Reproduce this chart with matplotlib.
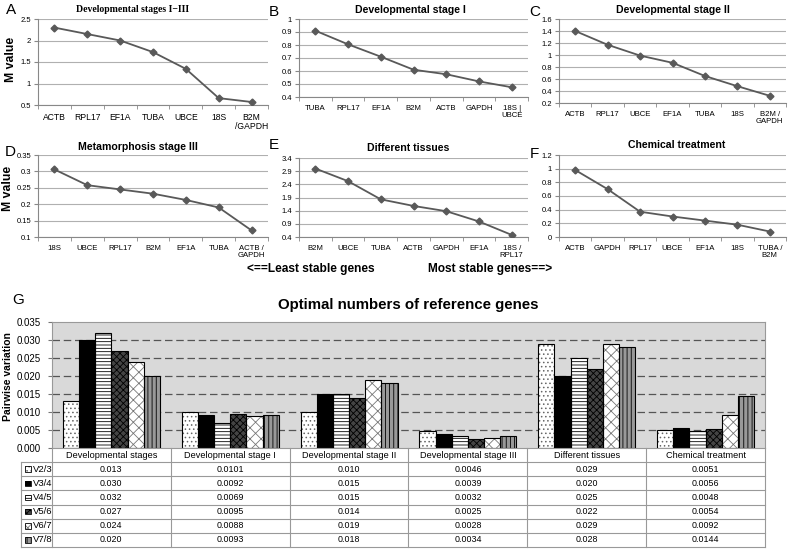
import numpy as np
import matplotlib
matplotlib.use('Agg')
import matplotlib.pyplot as plt
from matplotlib.patches import Rectangle

plt.rcParams['font.family'] = ['Liberation Sans', 'DejaVu Sans']
plt.rcParams['hatch.linewidth'] = 0.6

W, H = 788, 551

# --- geNorm M values, panels A-F ---
genes_a = ['ACTB', 'RPL17', 'EF1A', 'TUBA', 'UBCE', '18S', 'B2M\n/GAPDH']
m_a = [2.30, 2.15, 2.00, 1.73, 1.34, 0.66, 0.57]
genes_b = ['TUBA', 'RPL17', 'EF1A', 'B2M', 'ACTB', 'GAPDH', '18S |\nUBCE']
m_b = [0.91, 0.805, 0.71, 0.61, 0.575, 0.52, 0.475]
genes_c = ['ACTB', 'RPL17', 'UBCE', 'EF1A', 'TUBA', '18S', 'B2M /\nGAPDH']
m_c = [1.40, 1.17, 0.99, 0.87, 0.65, 0.48, 0.32]
genes_d = ['18S', 'UBCE', 'RPL17', 'B2M', 'EF1A', 'TUBA', 'ACTB /\nGAPDH']
m_d = [0.306, 0.258, 0.245, 0.232, 0.213, 0.190, 0.120]
genes_e = ['B2M', 'UBCE', 'TUBA', 'ACTB', 'GAPDH', 'EF1A', '18S /\nRPL17']
m_e = [3.00, 2.52, 1.83, 1.58, 1.38, 0.99, 0.48]
genes_f = ['ACTB', 'GAPDH', 'RPL17', 'UBCE', 'EF1A', '18S', 'TUBA /\nB2M']
m_f = [0.98, 0.70, 0.37, 0.30, 0.24, 0.18, 0.08]

# --- pairwise variation, panel G ---
groups = ['Developmental stages', 'Developmental stage I', 'Developmental stage II',
          'Developmental stage III', 'Different tissues', 'Chemical treatment']
pairs = ['V2/3', 'V3/4', 'V4/5', 'V5/6', 'V6/7', 'V7/8']
v23 = [0.013, 0.0101, 0.010, 0.0046, 0.029, 0.0051]
v34 = [0.030, 0.0092, 0.015, 0.0039, 0.020, 0.0056]
v45 = [0.032, 0.0069, 0.015, 0.0032, 0.025, 0.0048]
v56 = [0.027, 0.0095, 0.014, 0.0025, 0.022, 0.0054]
v67 = [0.024, 0.0088, 0.019, 0.0028, 0.029, 0.0092]
v78 = [0.020, 0.0093, 0.018, 0.0034, 0.028, 0.0144]
v_txt = [['0.013', '0.0101', '0.010', '0.0046', '0.029', '0.0051'],
         ['0.030', '0.0092', '0.015', '0.0039', '0.020', '0.0056'],
         ['0.032', '0.0069', '0.015', '0.0032', '0.025', '0.0048'],
         ['0.027', '0.0095', '0.014', '0.0025', '0.022', '0.0054'],
         ['0.024', '0.0088', '0.019', '0.0028', '0.029', '0.0092'],
         ['0.020', '0.0093', '0.018', '0.0034', '0.028', '0.0144']]


def px_rect(x0, y0, x1, y1):
    return [x0 / W, 1 - y1 / H, (x1 - x0) / W, (y1 - y0) / H]


def fpos(x, y):
    return x / W, 1 - y / H


fig = plt.figure(figsize=(W / 100, H / 100), dpi=100)

panels = [
    ('A', 'Developmental stages I\u2212III', genes_a, m_a, (0.5, 2.5, 0.5), (38, 19, 268, 105), (11, 59), (6, 10), (133, 10), True),
    ('B', 'Developmental stage I', genes_b, m_b, (0.4, 1.0, 0.1), (299, 19, 528, 97), None, (269, 12), (410, 10), False),
    ('C', 'Developmental stage II', genes_c, m_c, (0.2, 1.6, 0.2), (559, 19, 786, 103), None, (529, 12), (673, 10), False),
    ('D', 'Metamorphosis stage III', genes_d, m_d, (0.1, 0.35, 0.05), (38, 155, 268, 237), (8, 188), (5, 152), (138, 147), False),
    ('E', 'Different tissues', genes_e, m_e, (0.4, 3.4, 0.5), (299, 158, 528, 237), None, (269, 145), (408, 148), False),
    ('F', 'Chemical treatment', genes_f, m_f, (0.0, 1.2, 0.2), (559, 155, 786, 237), None, (530, 154), (677, 145), False),
]

for letter, title, genes, vals, (y0, y1, st), r, ylab, lpos, tpos, serif in panels:
    ax = fig.add_axes(px_rect(*r))
    x = np.arange(len(genes)) + 0.5
    ax.plot(x, vals, color='#595959', lw=1.3, marker='D', ms=3.5, zorder=3)
    ax.set_xlim(0, len(genes))
    ax.set_ylim(y0, y1)
    yt = np.round(np.arange(y0, y1 + st / 2, st), 3)
    ax.set_yticks(yt)
    ax.set_yticklabels(['{:g}'.format(v) for v in yt], fontsize=5.5)
    ax.set_xticks(x)
    ax.set_xticklabels(genes, fontsize=6.2 if serif else 5.6, linespacing=1.0)
    ax.set_xticks(np.arange(len(genes) + 1), minor=True)
    ax.tick_params(axis='x', which='major', length=0, pad=5.5)
    ax.tick_params(axis='x', which='minor', length=3, color='#888888')
    ax.tick_params(axis='y', length=3, color='#888888', pad=2)
    ax.grid(axis='y', color='#b0b0b0', lw=0.8)
    ax.set_axisbelow(True)
    for s in ['top', 'right']:
        ax.spines[s].set_visible(False)
    for s in ['left', 'bottom']:
        ax.spines[s].set_color('#888888')
    if ylab:
        fig.text(*fpos(*ylab), 'M value', fontsize=8.8, fontweight='bold',
                 rotation=90, ha='center', va='center')
    fig.text(*fpos(*lpos), letter, fontsize=11, va='center', ha='left')
    fig.text(*fpos(*tpos), title, fontsize=7 if serif else 7.6, fontweight='bold',
             ha='center', va='center',
             family='Liberation Serif' if serif else 'Liberation Sans')

fig.text(*fpos(311, 269), '<==Least stable genes', fontsize=8.6, fontweight='bold',
         ha='center', va='center')
fig.text(*fpos(490, 269), 'Most stable genes==>', fontsize=8.6, fontweight='bold',
         ha='center', va='center')

# --- panel G bars ---
fig.text(*fpos(12, 300), 'G', fontsize=11, va='center', ha='left')
fig.text(*fpos(408, 305), 'Optimal numbers of reference genes', fontsize=10.8,
         fontweight='bold', ha='center', va='center')
fig.text(*fpos(8, 377), 'Pairwise variation', fontsize=7.5, fontweight='bold',
         rotation=90, ha='center', va='center')

axb = fig.add_axes(px_rect(52, 322, 765, 448))
axb.set_facecolor('#d9d9d9')
axb.set_xlim(0, 6)
axb.set_ylim(0, 0.035)
yt = np.arange(0, 0.0351, 0.005)
axb.set_yticks(yt)
axb.set_yticklabels(['{:.3f}'.format(v) for v in yt], fontsize=7)
axb.tick_params(axis='y', length=3, color='#777777', pad=5)
axb.set_xticks([])
for v in yt[1:-1]:
    axb.axhline(v, color='#555555', lw=0.9, ls=(0, (6, 3)), zorder=1)
for s in axb.spines.values():
    s.set_color('#999999')

series = [v23, v34, v45, v56, v67, v78]
styles = [('white', '....', '#666666'),
          ('black', None, 'black'),
          ('white', '-----', 'black'),
          ('#444444', 'xxxxx', 'black'),
          ('white', 'xxx', '#777777'),
          ('#999999', '||||', 'black')]
bw = 0.136
gx = np.arange(6) + 0.5
for i, (vals, (fc, hatch, hc)) in enumerate(zip(series, styles)):
    xs = gx + (i - 2.5) * bw
    axb.bar(xs, vals, width=bw, color=fc, hatch=hatch, edgecolor=hc, lw=0, zorder=2)
    axb.bar(xs, vals, width=bw, fill=False, edgecolor='black', lw=0.8, zorder=3)

# --- table under the bars ---
axt = fig.add_axes(px_rect(21, 448, 765, 547))
lab_w = 0.26
axt.set_xlim(-lab_w, 6)
axt.set_ylim(7, 0)
axt.axis('off')
lc = '#999999'
for k in range(1, 8):
    axt.plot([-lab_w, 6], [k, k], color=lc, lw=0.8, clip_on=False)
for k in range(0, 7):
    axt.plot([k, k], [0, 7], color=lc, lw=0.8, clip_on=False)
axt.plot([-lab_w, -lab_w], [1, 7], color=lc, lw=0.8, clip_on=False)
for j, g in enumerate(groups):
    axt.text(j + 0.5, 0.5, g, fontsize=6.6, ha='center', va='center')
for i, p in enumerate(pairs):
    fc, hatch, hc = styles[i]
    axt.add_patch(Rectangle((-lab_w + 0.03, i + 1.3), 0.05, 0.4, facecolor=fc,
                            hatch=hatch, edgecolor=hc, lw=0))
    axt.add_patch(Rectangle((-lab_w + 0.03, i + 1.3), 0.05, 0.4, fill=False,
                            edgecolor='black', lw=0.6))
    axt.text(-lab_w + 0.1, i + 1.5, p, fontsize=6.8, ha='left', va='center')
    for j in range(6):
        axt.text(j + 0.5, i + 1.5, v_txt[i][j], fontsize=6.4, ha='center', va='center')

fig.savefig('out.png', dpi=100)
